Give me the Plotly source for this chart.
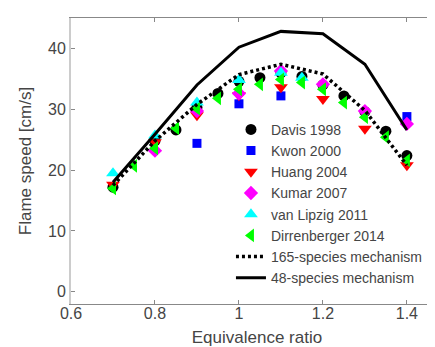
import plotly.graph_objects as go

# Experimental data
davis_x = [0.7, 0.8, 0.85, 0.9, 0.95, 1.0, 1.05, 1.1, 1.15, 1.2, 1.25, 1.3, 1.35, 1.4]
davis_y = [17.2, 24.8, 26.6, 30.3, 32.6, 34.6, 35.2, 36.0, 35.4, 34.0, 32.2, 29.6, 26.4, 22.4]

kwon_x = [0.9, 1.0, 1.1, 1.4]
kwon_y = [24.4, 30.9, 32.2, 28.8]

huang_x = [0.7, 0.8, 0.9, 1.0, 1.1, 1.2, 1.3, 1.4]
huang_y = [17.6, 24.6, 29.0, 32.3, 33.6, 31.7, 26.8, 20.8]

kumar_x = [0.8, 0.9, 1.0, 1.1, 1.2, 1.3, 1.4]
kumar_y = [23.2, 29.7, 32.6, 36.3, 34.1, 29.7, 27.6]

lipzig_x = [0.7, 0.8, 0.9, 1.0, 1.1, 1.15]
lipzig_y = [19.5, 25.7, 31.1, 34.8, 36.0, 35.2]

dirr_x = [0.7, 0.75, 0.8, 0.85, 0.9, 0.95, 1.0, 1.05, 1.1, 1.15, 1.2, 1.25, 1.3, 1.35, 1.4]
dirr_y = [17.0, 20.7, 23.6, 26.9, 30.1, 31.8, 33.3, 34.1, 34.9, 34.4, 33.3, 31.1, 28.7, 25.4, 21.6]

# Mechanism predictions
mech165_x = [0.7, 0.8, 0.9, 1.0, 1.1, 1.2, 1.3, 1.4]
mech165_y = [17.5, 24.8, 30.8, 35.7, 37.4, 35.8, 29.8, 20.8]

mech48_x = [0.7, 0.8, 0.9, 1.0, 1.1, 1.2, 1.3, 1.4]
mech48_y = [18.0, 25.9, 34.0, 40.2, 42.8, 42.4, 37.4, 26.6]

x_ticks = [0.6, 0.8, 1.0, 1.2, 1.4]
x_tick_labels = ["0.6", "0.8", "1", "1.2", "1.4"]
y_ticks = [0, 10, 20, 30, 40]

fig = go.Figure()

def markers(x, y, name, symbol, color, size):
    fig.add_trace(go.Scatter(x=x, y=y, mode="markers", name=name,
                             marker=dict(symbol=symbol, color=color, size=size,
                                         line=dict(width=0))))

markers(davis_x, davis_y, "Davis 1998", "circle", "#000000", 11)
markers(kwon_x, kwon_y, "Kwon 2000", "square", "#0000ff", 9)
markers(huang_x, huang_y, "Huang 2004", "triangle-down", "#ff0000", 12)
markers(kumar_x, kumar_y, "Kumar 2007", "diamond", "#ff00ff", 11)
markers(lipzig_x, lipzig_y, "van Lipzig 2011", "triangle-up", "#00ffff", 12)
markers(dirr_x, dirr_y, "Dirrenberger 2014", "triangle-left", "#00ff00", 12)

fig.add_trace(go.Scatter(x=mech165_x, y=mech165_y, mode="lines", name="165-species mechanism",
                         line=dict(color="black", width=3.5, dash="3px,3px")))
fig.add_trace(go.Scatter(x=mech48_x, y=mech48_y, mode="lines", name="48-species mechanism",
                         line=dict(color="black", width=3)))

font = "Liberation Sans, Arial, sans-serif"
fig.update_layout(
    width=435, height=347,
    margin=dict(l=63, r=0, t=10, b=51),
    paper_bgcolor="white", plot_bgcolor="white",
    font=dict(family=font, color="#454545", size=16),
    showlegend=True,
    legend=dict(x=0.43, y=0.665, xanchor="left", yanchor="top",
                bgcolor="rgba(0,0,0,0)", font=dict(size=14, color="#454545"),
                tracegroupgap=0, itemsizing="trace"),
    xaxis=dict(range=[0.6, 1.486], tickvals=x_ticks, ticktext=x_tick_labels,
               ticks="inside", ticklen=4, tickcolor="#888", showline=True, linecolor="#888",
               linewidth=1, mirror="ticks", showgrid=False, zeroline=False,
               ticklabelstandoff=-5,
               title=dict(text="Equivalence ratio", standoff=9, font=dict(size=17)),
               tickfont=dict(size=16)),
    yaxis=dict(range=[-2, 45], tickvals=y_ticks, ticks="inside", ticklen=4, tickcolor="#888",
               showline=True, linecolor="#ccc", linewidth=2, mirror=False, showgrid=False,
               zeroline=False,
               title=dict(text="Flame speed [cm/s]", standoff=12, font=dict(size=17)),
               tickfont=dict(size=16)),
)

fig.write_html("out.html")
